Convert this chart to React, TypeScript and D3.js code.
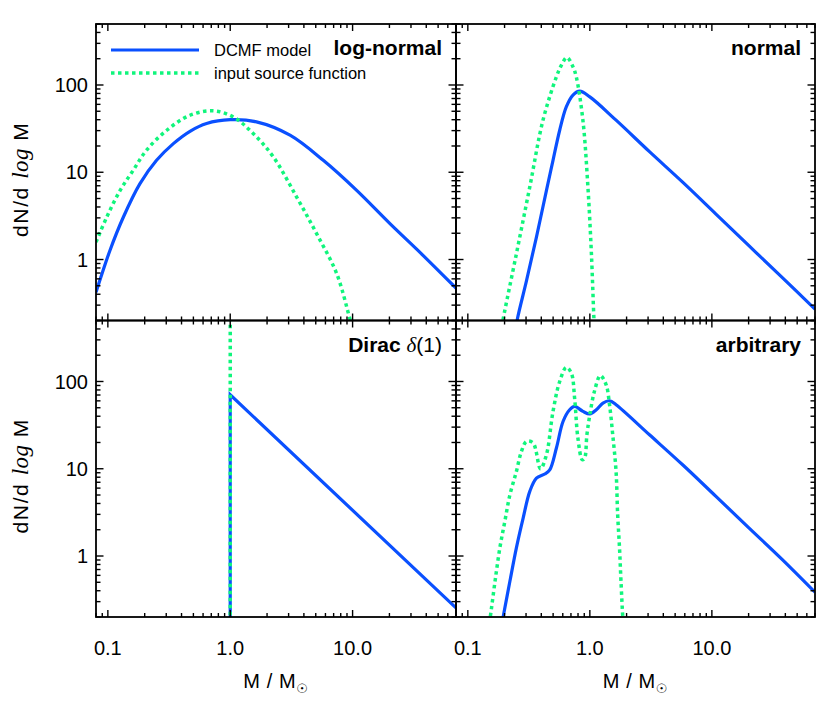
import React from 'react';
import * as d3 from 'd3';

// axis ticks
const massTicks = [0.1, 1, 10];
const massTickLabels = ['0.1', '1.0', '10.0'];
const dnTicks = [1, 10, 100];
const dnTickLabels = ['1', '10', '100'];
const legendLabels = ['DCMF model', 'input source function'];

// [M / Msun, dN/dlogM]
const lognormalModel: [number, number][] = [
  [0.08, 0.42], [0.104, 1.27], [0.134, 3.07], [0.183, 7.4], [0.25, 13.7], [0.343, 21.3],
  [0.469, 29.5], [0.641, 36.2], [1.0, 40], [1.64, 37.8], [3.08, 26.6], [5.76, 13.7],
  [10.8, 6.2], [20.2, 2.58], [37.8, 1.11], [70, 0.47],
];
const lognormalInput: [number, number][] = [
  [0.08, 1.58], [0.098, 3.07], [0.126, 6.2], [0.161, 10.5], [0.207, 17.9], [0.303, 30.3],
  [0.469, 45], [0.727, 50.6], [1.06, 43], [1.54, 27.8], [2.25, 15], [3.49, 5.2],
  [5.08, 1.98], [7.41, 0.69], [9.5, 0.21], [10.2, 0.15],
];
const normalModel: [number, number][] = [
  [0.25, 0.17], [0.255, 0.209], [0.303, 0.575], [0.365, 1.81], [0.441, 6.2], [0.499, 13.7],
  [0.566, 30.3], [0.641, 56], [0.727, 76.6], [0.825, 85], [1.0, 73], [1.64, 39.5],
  [3.08, 17.2], [5.76, 7.7], [10.8, 3.32], [20.2, 1.43], [37.8, 0.62], [70, 0.27],
];
const normalInput: [number, number][] = [
  [0.19, 0.17], [0.195, 0.21], [0.25, 1.16], [0.322, 6.8], [0.413, 39.5], [0.532, 124],
  [0.585, 169], [0.649, 207], [0.727, 162], [0.774, 124], [0.877, 39.5], [0.964, 6.8],
  [1.03, 1.16], [1.08, 0.21], [1.09, 0.17],
];
const diracModel: [number, number][] = [[1, 0.1], [1, 70.5], [70, 0.254]];
const diracInput: [number, number][] = [[1, 0.1], [1, 1000]];
const arbitraryModel: [number, number][] = [
  [0.19, 0.17], [0.195, 0.203], [0.221, 0.51], [0.25, 1.24], [0.284, 2.72], [0.322, 5.5],
  [0.365, 7.8], [0.427, 8.7], [0.469, 9.7], [0.532, 17.3], [0.603, 34.8], [0.683, 47.4],
  [0.75, 51.8], [0.877, 45.4], [1.0, 42.4], [1.13, 47.4], [1.28, 56.6], [1.45, 60.1],
  [1.64, 54.1], [3.08, 24.5], [5.76, 11.1], [10.8, 4.82], [20.2, 2.09], [37.8, 0.91], [70, 0.385],
];
const arbitraryInput: [number, number][] = [
  [0.15, 0.17], [0.153, 0.203], [0.167, 0.51], [0.183, 1.24], [0.201, 2.49], [0.221, 5.0],
  [0.25, 9.3], [0.275, 15.8], [0.303, 20.6], [0.343, 19.7], [0.394, 10], [0.441, 14.5],
  [0.499, 45.4], [0.566, 100], [0.641, 145], [0.705, 125], [0.75, 64.5], [0.798, 22.5],
  [0.867, 12.7], [0.905, 13.2], [0.946, 24.5], [1.0, 41.6], [1.09, 77], [1.22, 117],
  [1.36, 91.6], [1.45, 54], [1.54, 24.5], [1.64, 9.3], [1.69, 2.97], [1.75, 1.24],
  [1.8, 0.51], [1.86, 0.203], [1.88, 0.17],
];

const W = 830;
const H = 719;
const FONT = '"Liberation Sans", Arial, Helvetica, sans-serif';
const BLUE = '#0a50ff';
const GREEN = '#10f57c';
const cols = [[96, 456], [456, 815]];
const rows = [[24, 320.5], [320.5, 617]];

function logTicks(lo: number, hi: number) {
  const out: { v: number; major: boolean }[] = [];
  for (let k = -2; k <= 3; k++) {
    for (let m = 1; m <= 9; m++) {
      const v = m * Math.pow(10, k);
      if (v >= lo * 0.9999 && v <= hi * 1.0001) out.push({ v, major: m === 1 });
    }
  }
  return out;
}

type PanelProps = {
  id: string;
  col: number;
  row: number;
  model: [number, number][];
  input: [number, number][];
  smooth: boolean;
  title: React.ReactNode;
  legend?: boolean;
};

function Panel({ id, col, row, model, input, smooth, title, legend }: PanelProps) {
  const [x0, x1] = cols[col];
  const [y0, y1] = rows[row];
  const xs = d3.scaleLog().domain([0.08, 70]).range([x0, x1]);
  const ys = d3.scaleLog().domain([0.2, 500]).range([y1, y0]);
  const line = d3
    .line<[number, number]>()
    .x((d) => xs(d[0]))
    .y((d) => ys(d[1]))
    .curve(smooth ? d3.curveCatmullRom.alpha(0.5) : d3.curveLinear);

  const xt = logTicks(0.08, 70);
  const yt = logTicks(0.2, 500);
  const maj = 7;
  const min = 4;

  return (
    <g>
      <defs>
        <clipPath id={id}>
          <rect x={x0} y={y0} width={x1 - x0} height={y1 - y0} />
        </clipPath>
      </defs>
      <g clipPath={`url(#${id})`}>
        <path d={line(model) || ''} fill="none" stroke={BLUE} strokeWidth={3.2} />
        <path d={line(input) || ''} fill="none" stroke={GREEN} strokeWidth={3.5} strokeDasharray="3.5 3.5" />
      </g>
      <g stroke="#000" strokeWidth={1.4}>
        {xt.map((t, i) => {
          const px = xs(t.v);
          const l = t.major ? maj : min;
          return (
            <g key={'x' + i}>
              <line x1={px} x2={px} y1={y1} y2={y1 - l} />
              <line x1={px} x2={px} y1={y0} y2={y0 + l} />
            </g>
          );
        })}
        {yt.map((t, i) => {
          const py = ys(t.v);
          const l = t.major ? maj + 0.5 : min + 0.5;
          return (
            <g key={'y' + i}>
              <line x1={x0} x2={x0 + l} y1={py} y2={py} />
              <line x1={x1} x2={x1 - l} y1={py} y2={py} />
            </g>
          );
        })}
        <rect x={x0} y={y0} width={x1 - x0} height={y1 - y0} fill="none" strokeWidth={1.8} />
      </g>
      {col === 0 &&
        dnTicks.map((v, i) => (
          <text key={'yl' + i} x={x0 - 8} y={ys(v)} dy="0.36em" textAnchor="end" fontSize={20} fontFamily={FONT}>
            {dnTickLabels[i]}
          </text>
        ))}
      {row === 1 &&
        massTicks.map((v, i) => (
          <text key={'xl' + i} x={xs(v)} y={655} textAnchor="middle" fontSize={20} fontFamily={FONT}>
            {massTickLabels[i]}
          </text>
        ))}
      {row === 1 && (
        <text x={(x0 + x1) / 2} y={688} textAnchor="middle" fontSize={20} fontFamily={FONT} letterSpacing={0.6}>
          M / M
          <tspan fontSize={13} dy={5} fontFamily='"DejaVu Sans", sans-serif'>☉</tspan>
        </text>
      )}
      {col === 0 && (
        <text
          transform={`translate(28,${(y0 + y1) / 2 + 7}) rotate(-90)`}
          textAnchor="middle"
          fontSize={21}
          letterSpacing={1.6}
          fontFamily={FONT}
        >
          dN/d{' '}
          <tspan fontStyle="italic" fontFamily='"Liberation Serif", serif' fontSize={23} letterSpacing={0.4}>
            log
          </tspan>{' '}
          M
        </text>
      )}
      <text x={x1 - 14} y={row === 0 ? 55 : 352} textAnchor="end" fontSize={21} fontWeight="bold" fontFamily={FONT}>
        {title}
      </text>
      {legend && (
        <g fontFamily={FONT} fontSize={16.5}>
          <line x1={111} x2={199} y1={50} y2={50} stroke={BLUE} strokeWidth={3.2} />
          <line x1={111} x2={199} y1={73} y2={73} stroke={GREEN} strokeWidth={3.5} strokeDasharray="3.5 3.5" />
          <text x={214} y={56}>{legendLabels[0]}</text>
          <text x={214} y={79}>{legendLabels[1]}</text>
        </g>
      )}
    </g>
  );
}

export default function App() {
  return (
    <svg width={W} height={H} style={{ position: 'absolute', left: 0, top: 0, background: '#fff' }}>
      <rect width={W} height={H} fill="#fff" />
      <Panel id="c1" col={0} row={0} model={lognormalModel} input={lognormalInput} smooth title="log-normal" legend />
      <Panel id="c2" col={1} row={0} model={normalModel} input={normalInput} smooth title="normal" />
      <Panel
        id="c3"
        col={0}
        row={1}
        model={diracModel}
        input={diracInput}
        smooth={false}
        title={
          <>
            Dirac{' '}
            <tspan fontWeight="normal" fontStyle="italic" fontFamily='"Liberation Serif", serif'>δ</tspan>
            <tspan fontWeight="normal">(1)</tspan>
          </>
        }
      />
      <Panel id="c4" col={1} row={1} model={arbitraryModel} input={arbitraryInput} smooth title="arbitrary" />
    </svg>
  );
}
